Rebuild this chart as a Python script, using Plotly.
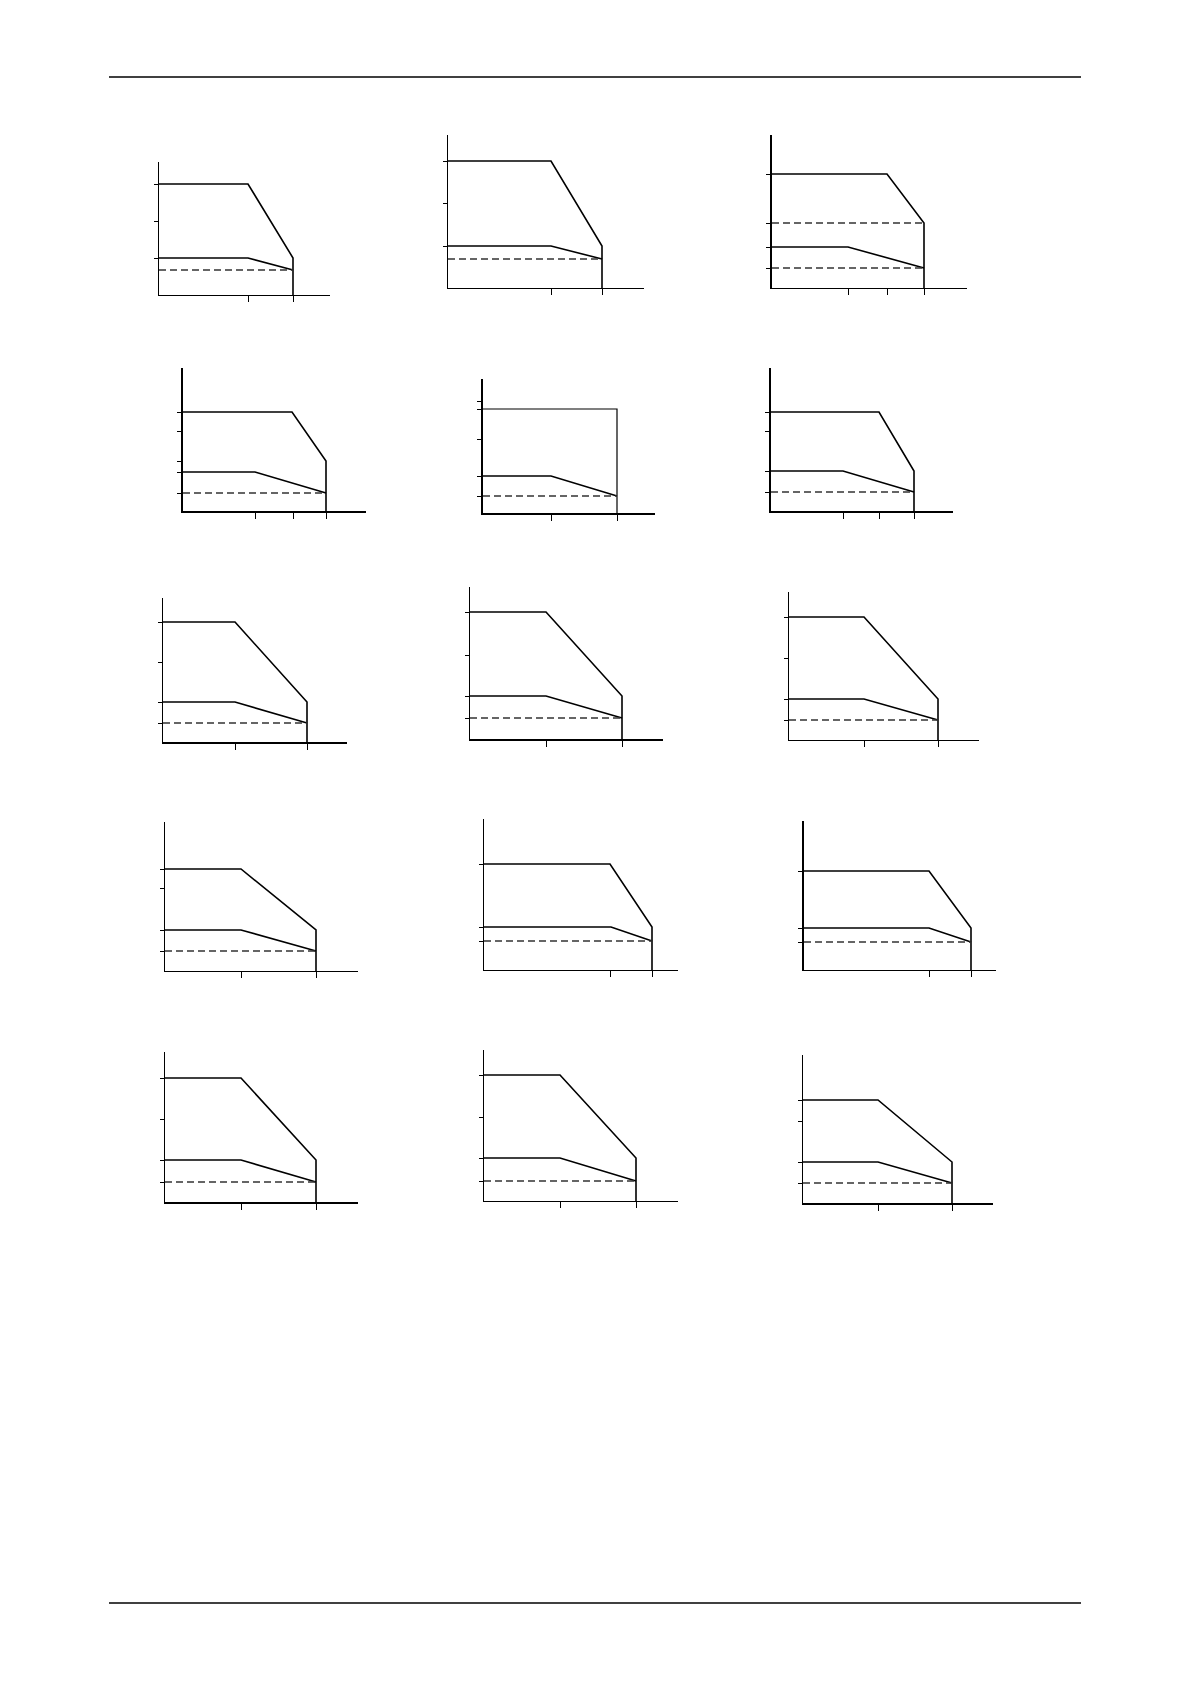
import plotly.graph_objects as go

# values, one entry per small chart (row by row, left to right)
# units: pixels measured from each chart's origin
x_knee = [89, 103, 115, 109, 134, 108, 72, 76, 75, 76, 126, 125, 76, 76, 75]
x_right = [134, 154, 152, 143, 134, 143, 144, 152, 149, 151, 168, 167, 151, 152, 149]
x_lower_knee = [89, 103, 76, 72, 68, 72, 72, 76, 75, 76, 127, 125, 76, 76, 75]
y_upper = [111, 127, 114, 99, 104, 99, 120, 127, 123, 102, 106, 99, 124, 126, 103]
y_upper_end = [37, 42, 65, 50, 104, 40, 40, 43, 41, 41, 43, 42, 42, 43, 41]
y_lower = [37, 42, 41, 39, 37, 40, 40, 43, 41, 41, 43, 42, 42, 43, 41]
y_lower_end = [25, 29, 20, 18, 17, 19, 19, 21, 20, 20, 29, 28, 20, 20, 20]
dash_levels = [[25], [29], [20, 65], [18], [17], [19], [19], [21], [20], [20],
               [29], [28], [20], [20], [20]]
y_ticks = [[111, 74, 37], [127, 85, 42], [114, 65, 41, 20], [99, 80, 50, 39, 18],
           [112, 104, 74, 37, 17], [99, 80, 40, 19], [120, 80, 40, 19],
           [127, 84, 43, 21], [123, 82, 41, 20], [102, 83, 41, 20],
           [106, 43, 29], [99, 42, 28], [124, 83, 42, 20], [126, 84, 43, 20],
           [103, 82, 41, 20]]
x_ticks = [[89, 134], [103, 154], [76, 115, 152], [72, 110, 143], [68, 134],
           [72, 108, 143], [72, 144], [76, 152], [75, 149], [76, 151],
           [126, 168], [125, 167], [76, 151], [76, 152], [75, 149]]

# where each chart sits on the page (origin x, origin y, axis top y, axis end x)
PAGE_W, PAGE_H = 1191, 1684
OFF = 8  # default body margin of the html page
W, H = PAGE_W - 2 * OFF, PAGE_H - 2 * OFF
org_x = [159, 448, 772, 183, 483, 771, 163, 470, 789, 165, 484, 804, 165, 484, 803]
org_y = [295, 288, 288, 511, 513, 511, 742, 739, 740, 971, 970, 970, 1202, 1201, 1203]
top_y = [162, 135, 135, 368, 379, 368, 598, 587, 592, 822, 819, 821, 1052, 1050, 1055]
end_x = [330, 644, 967, 366, 655, 953, 347, 663, 979, 358, 678, 996, 358, 678, 993]
thick_y = [3, 4, 5, 6, 12]
thick_x = [4, 5, 6, 7, 8, 13, 15]


def px(v):
    return (v - OFF) / W


def py(v):
    return 1 - (v - OFF) / H


fig = go.Figure()
layout = {}
for i in range(15):
    n = i + 1
    xs = 'x' if n == 1 else f'x{n}'
    ys = 'y' if n == 1 else f'y{n}'
    k, r = x_knee[i], x_right[i]
    fig.add_trace(go.Scatter(
        x=[0, k, r, r], y=[y_upper[i], y_upper[i], y_upper_end[i], 0],
        mode='lines', line=dict(color='black', width=1.2 if n == 5 else 1.6),
        xaxis=xs, yaxis=ys))
    fig.add_trace(go.Scatter(
        x=[0, x_lower_knee[i], r], y=[y_lower[i], y_lower[i], y_lower_end[i]],
        mode='lines', line=dict(color='black', width=1.6), xaxis=xs, yaxis=ys))
    for lvl in dash_levels[i]:
        fig.add_trace(go.Scatter(
            x=[0, r], y=[lvl, lvl], mode='lines',
            line=dict(color='#333333', width=1.3, dash='7px,4px'), xaxis=xs, yaxis=ys))

    layout[f'xaxis{n}'] = dict(
        domain=[px(org_x[i]), px(end_x[i])], range=[0, end_x[i] - org_x[i]],
        anchor=ys, showline=True, linecolor='black',
        linewidth=2 if n in thick_x else 1,
        tickmode='array', tickvals=x_ticks[i], ticks='outside', ticklen=6,
        tickwidth=1, tickcolor='black', showticklabels=False,
        showgrid=False, zeroline=False)
    layout[f'yaxis{n}'] = dict(
        domain=[py(org_y[i]), py(top_y[i])], range=[0, org_y[i] - top_y[i]],
        anchor=xs, showline=True, linecolor='black',
        linewidth=2 if n in thick_y else 1,
        tickmode='array', tickvals=y_ticks[i], ticks='outside', ticklen=4,
        tickwidth=1, tickcolor='black', showticklabels=False,
        showgrid=False, zeroline=False)

fig.update_layout(**layout)
fig.update_layout(
    width=W, height=H, margin=dict(l=0, r=0, t=0, b=0),
    paper_bgcolor='white', plot_bgcolor='white', showlegend=False,
    shapes=[
        dict(type='line', xref='paper', yref='paper', x0=px(109), x1=px(1081),
             y0=py(77), y1=py(77), line=dict(color='black', width=1.3)),
        dict(type='line', xref='paper', yref='paper', x0=px(109), x1=px(1081),
             y0=py(1603), y1=py(1603), line=dict(color='black', width=1.3)),
    ])

fig.write_html('out.html')
